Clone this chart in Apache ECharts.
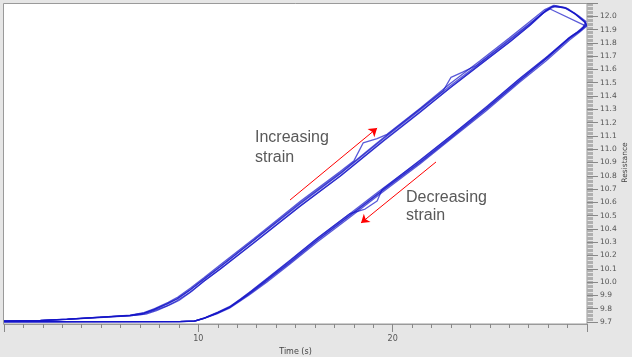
<!DOCTYPE html>
<html>
<head>
<meta charset="utf-8">
<script src="https://cdn.jsdelivr.net/npm/echarts@6/dist/echarts.min.js"></script>
<style>
html,body{margin:0;padding:0;background:#e6e6e6;}
#chart{width:632px;height:357px;}
</style>
</head>
<body>
<div id="chart"></div>
<script>
// ---- data (Time s, Resistance) ----
const cycle1 = [
  [0, 9.707], [1.85, 9.711], [3.24, 9.720], [4.94, 9.735], [6.48, 9.749], [7.15, 9.764], [7.67, 9.790], [8.39, 9.835], [8.90, 9.873], [9.57, 9.940], [10.24, 10.016], [11.12, 10.114], [12.82, 10.309], [15.23, 10.588], [17.29, 10.813], [19.51, 11.077], [21.41, 11.295], [22.95, 11.475], [24.50, 11.649], [26.04, 11.822], [27.07, 11.942], [27.84, 12.040], [28.26, 12.077], [28.87, 12.062], [29.39, 12.017], [29.90, 11.957], [29.97, 11.930],
  [29.95, 11.919], [29.64, 11.889], [29.13, 11.837], [27.95, 11.686], [26.56, 11.521], [24.86, 11.310], [22.95, 11.084], [21.41, 10.904], [19.35, 10.678], [17.81, 10.505], [16.11, 10.317], [14.72, 10.151], [13.54, 10.016], [12.66, 9.918], [12.15, 9.865], [11.63, 9.813], [10.96, 9.767], [10.34, 9.730], [9.83, 9.707], [9.06, 9.703], [0, 9.702]
];
const cycle2 = [
  [0, 9.708], [1.9, 9.712], [3.3, 9.722], [5.0, 9.737], [6.5, 9.751], [7.2, 9.770], [7.75, 9.801], [8.45, 9.848], [8.95, 9.888], [9.6, 9.956], [10.3, 10.034], [11.15, 10.132], [12.85, 10.326], [15.25, 10.608], [17.3, 10.832], [18.01, 10.914], [18.48, 11.047], [19.20, 11.080], [19.71, 11.112], [21.45, 11.312], [22.95, 11.492], [24.5, 11.665], [26.0, 11.836], [27.0, 11.954], [27.8, 12.048], [28.3, 12.082], [28.9, 12.066], [29.45, 12.010], [29.92, 11.950], [29.98, 11.925],
  [29.9, 11.910], [29.6, 11.878], [29.1, 11.822], [27.9, 11.666], [26.5, 11.500], [24.8, 11.288], [22.9, 11.066], [21.4, 10.888], [19.3, 10.658], [17.8, 10.488], [16.1, 10.300], [14.7, 10.134], [13.5, 9.998], [12.6, 9.902], [12.1, 9.852], [11.6, 9.804], [10.95, 9.761], [10.3, 9.727], [9.8, 9.706], [9.0, 9.703], [0, 9.702]
];
const cycle3 = [
  [0, 9.706], [1.8, 9.710], [3.2, 9.719], [4.9, 9.733], [6.45, 9.746], [7.1, 9.758], [7.6, 9.780], [8.35, 9.820], [8.85, 9.856], [9.55, 9.922], [10.2, 9.998], [11.1, 10.096], [12.8, 10.290], [15.2, 10.568], [17.3, 10.796], [19.5, 11.058], [21.4, 11.277], [22.9, 11.456], [24.45, 11.632], [26.0, 11.805], [27.05, 11.930], [27.8, 12.030], [28.2, 12.072], [28.8, 12.066], [29.35, 12.025], [29.85, 11.965], [29.97, 11.940],
  [29.97, 11.928], [29.7, 11.900], [29.2, 11.852], [28.0, 11.704], [26.6, 11.540], [24.9, 11.328], [23.0, 11.102], [21.45, 10.922], [19.45, 10.695], [19.20, 10.610], [18.58, 10.550], [17.81, 10.516], [16.15, 10.334], [14.75, 10.168], [13.58, 10.032], [12.7, 9.932], [12.2, 9.877], [11.68, 9.822], [11.0, 9.774], [10.38, 9.735], [9.87, 9.710], [9.1, 9.704], [0, 9.703]
];
const cycle4 = [
  [0, 9.707], [1.85, 9.712], [3.25, 9.721], [4.95, 9.736], [6.5, 9.750], [7.2, 9.766], [7.7, 9.793], [8.4, 9.838], [8.92, 9.876], [9.6, 9.944], [10.25, 10.020], [11.12, 10.117], [12.82, 10.314], [15.23, 10.596], [17.29, 10.820], [19.51, 11.085], [21.41, 11.302], [22.6, 11.440], [23.0, 11.540], [23.6, 11.580], [24.3, 11.630], [26.04, 11.830], [27.07, 11.948], [27.7, 12.020], [28.1, 12.055], [29.9, 11.930],
  [29.85, 11.915], [29.55, 11.882], [29.05, 11.832], [27.9, 11.680], [26.52, 11.514], [24.83, 11.302], [22.93, 11.076], [21.38, 10.896], [19.32, 10.670], [17.78, 10.497], [16.08, 10.309], [14.7, 10.144], [13.52, 10.010], [12.64, 9.912], [12.13, 9.860], [11.61, 9.809], [10.94, 9.765], [10.32, 9.729], [9.8, 9.707], [9.0, 9.703], [0, 9.702]
];
const cycle5 = [
  [0, 9.708], [1.9, 9.711], [3.3, 9.721], [5.0, 9.736], [6.55, 9.748], [7.3, 9.760], [7.85, 9.785], [8.5, 9.826], [9.0, 9.862], [9.65, 9.930], [10.3, 10.008], [11.2, 10.106], [12.9, 10.300], [15.3, 10.578], [17.35, 10.804], [19.55, 11.068], [21.45, 11.286], [23.0, 11.466], [24.55, 11.642], [26.1, 11.816], [27.1, 11.936], [27.9, 12.045], [28.4, 12.078], [29.0, 12.058], [29.6, 12.000], [29.95, 11.960], [29.8, 11.920],
  [29.5, 11.882], [29.0, 11.830], [27.85, 11.682], [26.45, 11.518], [24.78, 11.310], [22.88, 11.086], [21.35, 10.908], [19.3, 10.683], [17.76, 10.510], [16.05, 10.320], [14.67, 10.155], [13.5, 10.020], [12.62, 9.920], [12.12, 9.866], [11.6, 9.813], [10.93, 9.766], [10.3, 9.729], [9.78, 9.706], [9.0, 9.702], [0, 9.702]
];
const cycles = [cycle1, cycle2, cycle3, cycle4, cycle5];

// arrows: [from, to] in data units
const arrowIncreasing = [[14.72, 10.618], [19.20, 11.159]];
const arrowDecreasing = [[22.23, 10.904], [18.37, 10.445]];

const xAxisName = 'Time (s)';
const yAxisName = 'Resistance';
const labelIncreasing = ['Increasing', 'strain'];
const labelDecreasing = ['Decreasing', 'strain'];

// ---- chart ----
const chart = echarts.init(document.getElementById('chart'), null, {renderer: 'canvas'});
const series = cycles.map((c) => ({
  type: 'line',
  data: c,
  showSymbol: false,
  symbol: 'none',
  silent: true,
  animation: false,
  lineStyle: {color: '#1414c8', width: 1.3, opacity: 0.7},
  z: 2
}));
series[0].markLine = {
  silent: true,
  animation: false,
  symbol: ['none', 'arrow'],
  symbolSize: 8,
  label: {show: false},
  lineStyle: {color: '#ff0000', width: 1, type: 'solid', opacity: 1},
  data: [
    [{coord: arrowIncreasing[0]}, {coord: arrowIncreasing[1]}],
    [{coord: arrowDecreasing[0]}, {coord: arrowDecreasing[1]}]
  ]
};

const textEl = (t, x, y) => ({
  type: 'text', z: 10, silent: true,
  style: {text: t, x: x, y: y, fill: '#595959', font: '16px "Liberation Sans", Arial, sans-serif', verticalAlign: 'top'}
});

chart.setOption({
  backgroundColor: '#e6e6e6',
  animation: false,
  grid: {left: 4, right: 45, top: 3, bottom: 35, show: false, containLabel: false, outerBoundsMode: 'none'},
  graphic: [
    {type: 'rect', z: -10, silent: true, shape: {x: 3.5, y: 3.5, width: 583.5, height: 320.5}, style: {fill: '#ffffff', stroke: '#9a9a9a', lineWidth: 1}},
    textEl(labelIncreasing[0], 255, 130),
    textEl(labelIncreasing[1], 255, 150),
    textEl(labelDecreasing[0], 406, 190),
    textEl(labelDecreasing[1], 406, 208)
  ],
  xAxis: {
    type: 'value', min: 0, max: 30, interval: 10, offset: 2,
    name: xAxisName, nameLocation: 'middle', nameGap: 24, nameMoveOverlap: false,
    nameTextStyle: {fontSize: 8, color: '#444', fontFamily: 'DejaVu Sans'},
    axisLine: {show: true, onZero: false, lineStyle: {color: '#9a9a9a', width: 1}},
    axisTick: {show: true, length: 8, lineStyle: {color: '#888'}},
    minorTick: {show: true, splitNumber: 10, length: 4, lineStyle: {color: '#888'}},
    splitLine: {show: false},
    axisLabel: {showMinLabel: false, showMaxLabel: false, fontSize: 8, color: '#555', fontFamily: 'DejaVu Sans', margin: 11}
  },
  yAxis: {
    type: 'value', position: 'right', min: 9.7, max: 12.1, interval: 0.1,
    name: yAxisName, nameLocation: 'middle', nameGap: 34, nameRotate: 90, nameMoveOverlap: false,
    nameTextStyle: {fontSize: 7.5, color: '#444', fontFamily: 'DejaVu Sans'},
    axisLine: {show: false, onZero: false},
    axisTick: {show: true, length: 11, lineStyle: {color: '#888'}},
    minorTick: {show: true, splitNumber: 10, length: 6, lineStyle: {color: '#b0b0b0'}},
    splitLine: {show: false},
    axisLabel: {fontSize: 7.5, color: '#555', fontFamily: 'DejaVu Sans', margin: 13,
      formatter: v => (v > 12.05 ? '' : v.toFixed(1))}
  },
  series: series
});
</script>
</body>
</html>
